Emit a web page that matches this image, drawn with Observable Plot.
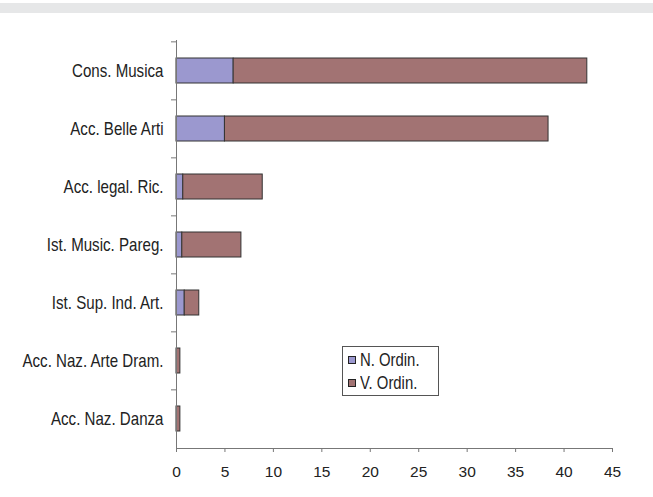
<!DOCTYPE html>
<html>
<head>
<meta charset="utf-8">
<script src="https://cdn.jsdelivr.net/npm/d3@7"></script>
<script src="https://cdn.jsdelivr.net/npm/@observablehq/plot@0.6"></script>
<style>
  html, body { margin: 0; padding: 0; background: #fff; }
  #wrap { position: relative; width: 653px; height: 497px; font-family: "Liberation Sans", Arial, sans-serif; }
  #band { position: absolute; left: 0; top: 3px; width: 653px; height: 10px; background: #e6e7e8; }
  #legend { position: absolute; left: 342px; top: 346px; width: 97px; height: 50px; border: 1px solid #555; background: #fff; box-sizing: border-box; font-size: 17.5px; color: #222; }
  #legend .item { position: absolute; left: 5px; height: 20px; display: flex; align-items: center; }
  #legend .sw { width: 6px; height: 6px; border: 1px solid #222; margin-right: 4px; flex: none; }
  #legend span { display: inline-block; transform: scaleX(0.85); transform-origin: left center; white-space: nowrap; }
</style>
</head>
<body>
<div id="wrap">
  <div id="band"></div>
  <div id="chart"></div>
  <div id="legend"></div>
</div>
<script>
const categories = ["Cons. Musica", "Acc. Belle Arti", "Acc. legal. Ric.", "Ist. Music. Pareg.", "Ist. Sup. Ind. Art.", "Acc. Naz. Arte Dram.", "Acc. Naz. Danza"];
const seriesNames = ["N. Ordin.", "V. Ordin."];
const nOrdin = [5.9, 5.0, 0.7, 0.6, 0.85, 0, 0];
const vOrdin = [36.5, 33.4, 8.2, 6.1, 1.5, 0.4, 0.4];
const xTicks = [0, 5, 10, 15, 20, 25, 30, 35, 40, 45];
const colors = ["#9b98cf", "#a27373"];

const data = [];
categories.forEach((c, i) => {
  data.push({cat: c, series: seriesNames[0], value: nOrdin[i]});
  data.push({cat: c, series: seriesNames[1], value: vOrdin[i]});
});

const W = 653, H = 497, mt = 40, mb = 49, ml = 176, mr = 41;
const halfStep = (H - mt - mb) / categories.length / 2;
const squeeze = 0.84;

const chart = Plot.plot({
  width: W, height: H,
  marginTop: mt, marginBottom: mb, marginLeft: ml, marginRight: mr,
  style: {fontFamily: '"Liberation Sans", Arial, sans-serif', fontSize: "15px", color: "#222", background: "transparent"},
  x: {domain: [0, 45]},
  y: {domain: categories, paddingInner: 0.57, paddingOuter: 0.285},
  color: {domain: seriesNames, range: colors},
  marks: [
    Plot.barX(data, Plot.stackX({x: "value", y: "cat", fill: "series", order: seriesNames, stroke: "#333", strokeWidth: 1})),
    Plot.axisY({tickSize: 0, tickPadding: 13, label: null, fontSize: 18}),
    Plot.axisY({ticks: categories, tickSize: 5, text: null, dy: -halfStep, stroke: "#777", label: null}),
    Plot.axisX({ticks: xTicks, tickSize: 4, tickPadding: 13, label: null, stroke: "#777", fontSize: 15.5}),
    Plot.ruleX([0], {stroke: "#777"}),
    Plot.frame({anchor: "bottom", stroke: "#777"})
  ]
});
document.getElementById("chart").appendChild(chart);

// horizontally condense the category labels (narrow face like the original)
chart.querySelectorAll("text").forEach(el => {
  if (!categories.includes(el.textContent)) return;
  const xa = el.getAttribute("x");
  if (xa != null) el.setAttribute("x", (+xa) / squeeze);
  const t = el.getAttribute("transform") || "";
  el.setAttribute("transform", (t + ` scale(${squeeze},1)`).trim());
});

const legend = document.getElementById("legend");
seriesNames.forEach((s, i) => {
  const it = document.createElement("div");
  it.className = "item";
  it.style.top = (i === 0 ? 3 : 26) + "px";
  const sw = document.createElement("div");
  sw.className = "sw";
  sw.style.background = colors[i];
  const t = document.createElement("span");
  t.textContent = s;
  it.appendChild(sw); it.appendChild(t);
  legend.appendChild(it);
});
</script>
</body>
</html>
